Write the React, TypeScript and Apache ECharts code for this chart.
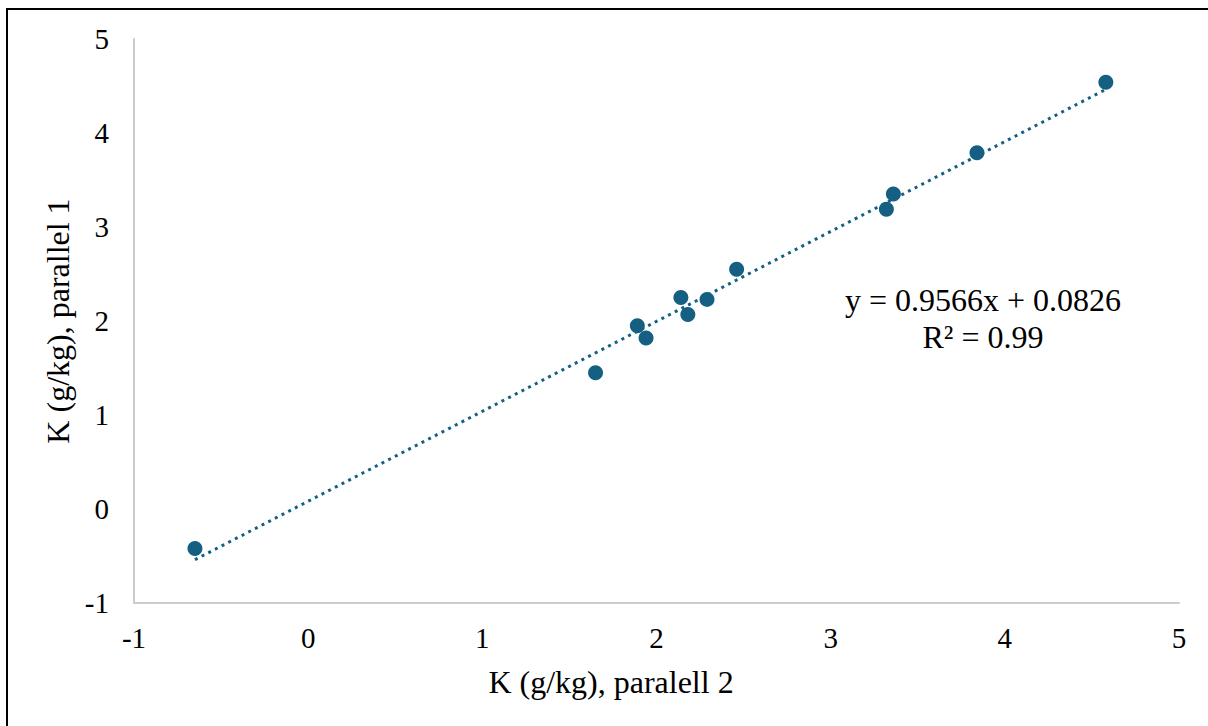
import React, { useEffect, useRef } from "react";
import * as echarts from "echarts";

// K (g/kg) measured in two parallels
const parallel2: number[] = [-0.65, 1.65, 1.89, 1.94, 2.14, 2.18, 2.29, 2.46, 3.32, 3.36, 3.84, 4.58];
const parallel1: number[] = [-0.42, 1.45, 1.95, 1.82, 2.25, 2.07, 2.23, 2.55, 3.19, 3.35, 3.79, 4.54];

// Linear fit shown on the chart
const slope = 0.9566;
const intercept = 0.0826;
const rSquared = "0.99";

const xTicks = { min: -1, max: 5, interval: 1 };
const yTicks = { min: -1, max: 5, interval: 1 };

const xTitle = "K (g/kg), paralell 2";
const yTitle = "K (g/kg), parallel 1";

const FONT = "Liberation Serif, Times New Roman, serif";
const COLOR = "#156082";
const TICK_SIZE = 29;
const TITLE_SIZE = 32;

export default function App() {
  const ref = useRef<HTMLDivElement>(null);

  useEffect(() => {
    if (!ref.current) return;
    const chart = echarts.init(ref.current, undefined, { renderer: "svg" });

    const points = parallel2.map((x, i) => [x, parallel1[i]]);
    const xMin = Math.min(...parallel2);
    const xMax = Math.max(...parallel2);
    const trend = [
      [xMin, slope * xMin + intercept],
      [xMax, slope * xMax + intercept],
    ];

    const textStyle = (text: string) => ({
      text,
      fontFamily: FONT,
      fontSize: TITLE_SIZE,
      fill: "#000",
      align: "center",
      verticalAlign: "middle",
    });

    chart.setOption({
      animation: false,
      backgroundColor: "#ffffff",
      textStyle: { fontFamily: FONT },
      grid: { left: 134, right: 29, top: 39, bottom: 123, containLabel: false },
      xAxis: {
        type: "value",
        min: xTicks.min,
        max: xTicks.max,
        interval: xTicks.interval,
        axisLine: { show: true, onZero: false, lineStyle: { color: "#cccccc", width: 2 } },
        axisTick: { show: false },
        splitLine: { show: false },
        axisLabel: { fontFamily: FONT, fontSize: TICK_SIZE, color: "#000", margin: 20 },
      },
      yAxis: {
        type: "value",
        min: yTicks.min,
        max: yTicks.max,
        interval: yTicks.interval,
        name: yTitle,
        nameLocation: "middle",
        nameGap: 50,
        nameTextStyle: { fontFamily: FONT, fontSize: TITLE_SIZE, color: "#000" },
        axisLine: { show: true, onZero: false, lineStyle: { color: "#cccccc", width: 2 } },
        axisTick: { show: false },
        splitLine: { show: false },
        axisLabel: { fontFamily: FONT, fontSize: TICK_SIZE, color: "#000", margin: 25 },
      },
      graphic: [
        {
          type: "rect",
          shape: { x: 7, y: 9, width: 1220, height: 740 },
          style: { fill: "none", stroke: "#000", lineWidth: 2 },
          silent: true,
        },
        { type: "text", x: 611, y: 682, style: textStyle(xTitle) },
        { type: "text", x: 983, y: 300, style: textStyle(`y = ${slope}x + ${intercept}`) },
        { type: "text", x: 983, y: 337, style: textStyle(`R² = ${rSquared}`) },
      ],
      series: [
        {
          type: "line",
          data: trend,
          showSymbol: false,
          symbol: "none",
          lineStyle: { color: COLOR, width: 3, type: [3, 4.5] },
          z: 1,
        },
        {
          type: "scatter",
          data: points,
          symbol: "circle",
          symbolSize: 15,
          itemStyle: { color: COLOR, opacity: 1 },
          z: 2,
        },
      ],
    });

    return () => chart.dispose();
  }, []);

  return (
    <div
      ref={ref}
      style={{ position: "fixed", left: 0, top: 0, width: 1208, height: 726 }}
    />
  );
}
